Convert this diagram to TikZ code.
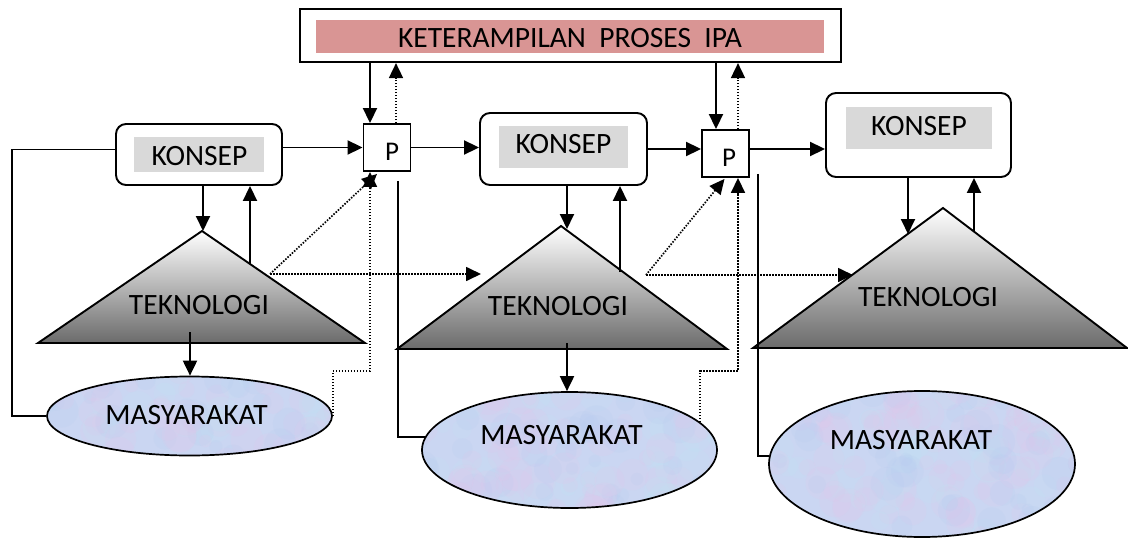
\documentclass[tikz,border=0pt]{standalone}
\usepackage{fontspec}
\setmainfont{Carlito}
\usetikzlibrary{arrows.meta,shapes.geometric,calc}
\definecolor{pinkbar}{HTML}{D99594}
\definecolor{konsepgray}{HTML}{D9D9D9}
\definecolor{masyfill}{HTML}{CAD6F2}
\definecolor{masypink}{HTML}{E4C6EA}
\definecolor{masycyan}{HTML}{BEE6F2}
\definecolor{masyblue}{HTML}{B4CAF0}
\definecolor{tekgray}{HTML}{6B6B6B}
\begin{document}
\begin{tikzpicture}[x=1pt,y=-1pt,
  line/.style={line width=1.9pt},
  arr/.style={line,-{Triangle[length=15pt,width=14pt]}},
  dots/.style={line width=1.7pt,dash pattern=on 1.5pt off 1.5pt},
  darr/.style={dots,-{Triangle[length=15pt,width=14pt]}},
  lbl/.style={inner sep=0pt,font=\fontsize{29.5}{33}\selectfont},
  plbl/.style={inner sep=0pt,font=\fontsize{27}{30}\selectfont},
  konbox/.style={draw,line width=1.9pt,rounded corners=10pt,inner sep=0pt},
  graybox/.style={fill=konsepgray,inner sep=0pt},
  pbox/.style={draw,line width=1.9pt,fill=white,inner sep=0pt,minimum width=47pt,minimum height=47pt},
  tri/.style={line width=1.9pt,line join=miter,top color=white,bottom color=tekgray},
  masy/.style={ellipse,draw,line width=1.7pt,fill=masyfill,inner sep=0pt,
    path picture={
      \foreach \c in {masypink,masycyan,masyblue,masypink}{
        \foreach \k in {1,...,45}{
          \fill[\c,opacity=0.16]
            ($(path picture bounding box.center)+(rand*160pt,rand*75pt)$)
            circle (6pt+rnd*12pt);
        }
      }
    }}
]
\pgfmathsetseed{17}
\useasboundingbox (0,0) rectangle (1128,538);

% process-skills banner
\node[draw,line width=2.2pt,inner sep=0pt,minimum width=541pt,minimum height=53pt] (KPI) at (570.5,35.5) {};
\node[fill=pinkbar,inner sep=0pt,minimum width=508pt,minimum height=33pt] (KPIbar) at (570,36.5) {};
\node[lbl] (KPItxt) at (570,38) {KETERAMPILAN\ \ PROSES\ \ IPA};

% concept boxes
\node[konbox,minimum width=166pt,minimum height=61pt] (K1) at (199,154.5) {};
\node[graybox,minimum width=130pt,minimum height=35pt] (K1g) at (199,154.5) {};
\node[lbl] (K1t) at (199.5,156) {KONSEP};
\node[konbox,minimum width=167pt,minimum height=72pt] (K2) at (563.5,149) {};
\node[graybox,minimum width=129pt,minimum height=42pt] (K2g) at (563.5,147) {};
\node[lbl] (K2t) at (563.5,144) {KONSEP};
\node[konbox,minimum width=185pt,minimum height=84pt] (K3) at (918.5,135) {};
\node[graybox,minimum width=146pt,minimum height=42pt] (K3g) at (919,128) {};
\node[lbl] (K3t) at (919,126) {KONSEP};

% P boxes
\node[pbox] (P1) at (387,147.5) {};
\node[plbl] (P1t) at (392,152) {P};
\node[pbox] (P2) at (725.5,153.5) {};
\node[plbl] (P2t) at (729,158) {P};

% technology triangles
\coordinate (t1a) at (202,231);
\coordinate (t1l) at (38,343);
\coordinate (t1r) at (365,343);
\coordinate (t2a) at (561,226);
\coordinate (t2l) at (397,349);
\coordinate (t2r) at (727,349);
\coordinate (t3a) at (943,208);
\coordinate (t3l) at (753,348);
\coordinate (t3r) at (1127,348);
\draw[tri] (t1a) -- (t1l) -- (t1r) -- cycle;
\draw[tri] (t2a) -- (t2l) -- (t2r) -- cycle;
\draw[tri] (t3a) -- (t3l) -- (t3r) -- cycle;
\node[lbl] (T1t) at (199,305) {TEKNOLOGI};
\node[lbl] (T2t) at (558,306) {TEKNOLOGI};
\node[lbl] (T3t) at (928,297) {TEKNOLOGI};

% society ellipses
\node[masy,minimum width=285pt,minimum height=79pt] (E1) at (189.5,416) {};
\node[masy,minimum width=295pt,minimum height=116pt] (E2) at (569.5,450) {};
\node[masy,minimum width=306pt,minimum height=146pt] (E3) at (922,464) {};
\node[lbl] (E1t) at (186.5,415.5) {MASYARAKAT};
\node[lbl] (E2t) at (561.5,435.5) {MASYARAKAT};
\node[lbl] (E3t) at (911,440) {MASYARAKAT};

% main horizontal flow
\draw[arr] (K1.east |- P1.west) -- (P1.west);
\draw[arr] (P1.east) -- (P1.east -| K2.west);
\draw[arr] (K2.east) -- (K2.east -| P2.west);
\draw[arr] (P2.east |- K2.east) -- (K3.west |- K2.east);

% links with the banner
\draw[arr] (KPI.south -| 370,0) -- (P1.north -| 370,0);
\draw[darr] (P1.north -| 396,0) -- (KPI.south -| 396,0);
\draw[arr] (KPI.south -| 716,0) -- (P2.north -| 716,0);
\draw[darr] (P2.north -| 738,0) -- (KPI.south -| 738,0);

% first stage
\coordinate (t1in) at (203,231);
\coordinate (t1up) at (250,264);
\coordinate (t1dn) at (190,332);
\coordinate (t1s) at (270,274);
\coordinate (k1in) at ([yshift=5pt]K1.west);
\draw[arr] (K1.south -| t1in) -- (t1in);
\draw[arr] (t1up) -- (t1up |- K1.south);
\draw[arr] (t1dn) -- (t1dn |- E1.north);
\draw[line] (E1.west) -- (12,0 |- E1.west) -- (12,0 |- k1in) -- (k1in);
\coordinate (t2tip) at (481,274);
\draw[darr] (t1s) -- (t2tip);
\draw[darr] (t1s) -- ([xshift=-10pt,yshift=-2pt]P1.south);
\draw[darr] (E1.east) -- (E1.east |- 0,371) -- (370,371) -- (370,0 |- P1.south);
\draw[line] ([xshift=11pt,yshift=-9pt]P1.south) |- (E2.175);

% second stage
\coordinate (t2in) at (567,229);
\coordinate (t2up) at (620,272);
\coordinate (t2dn) at (567,343);
\coordinate (t2s) at (646,275);
\coordinate (t3tip) at (853,275);
\draw[arr] (K2.south -| t2in) -- (t2in);
\draw[arr] (t2up) -- (t2up |- K2.south);
\draw[arr] (t2dn) -- (t2dn |- E2.north);
\draw[darr] (t2s) -- (t3tip);
\draw[darr] (t2s) -- ([xshift=-1pt,yshift=-1pt]P2.south);
\draw[darr] (E2.12) -- (E2.12 |- 0,371) -- (738,371) -- (738,0 |- P2.south);
\draw[line] ([xshift=8pt,yshift=4pt]P2.south east) |- (E3.177);

% third stage
\coordinate (t3in) at (908,234);
\coordinate (t3up) at (974,232);
\draw[arr] (K3.south -| t3in) -- (t3in);
\draw[arr] (t3up) -- (t3up |- K3.south);
\end{tikzpicture}
\end{document}
